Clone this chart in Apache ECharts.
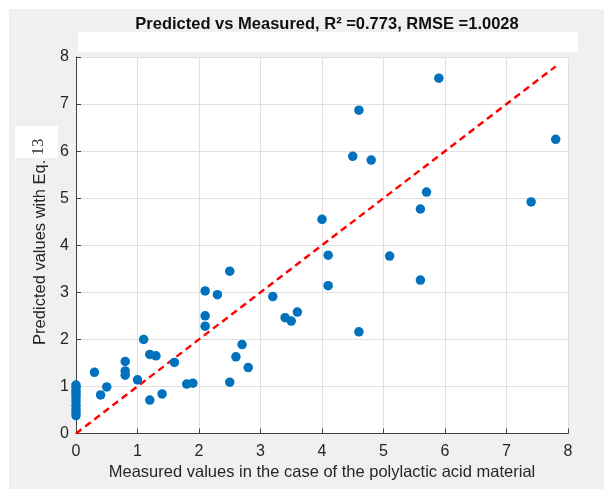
<!DOCTYPE html>
<html>
<head>
<meta charset="utf-8">
<script src="https://cdn.jsdelivr.net/npm/echarts@6/dist/echarts.min.js"></script>
<style>
html,body{margin:0;padding:0;background:#fff;}
#chart{width:604px;height:493px;}
</style>
</head>
<body>
<div id="chart"></div>
<script>
// Measured values (x)
const measured = [
  0, 0, 0, 0, 0, 0, 0, 0, 0, 0,
  0.3, 0.4, 0.5, 0.8, 0.8, 0.8, 1.0, 1.1, 1.2, 1.3,
  1.2, 1.4, 1.6, 1.8, 1.9, 2.1, 2.1, 2.1, 2.3, 2.5,
  2.5, 2.6, 2.7, 2.8, 3.2, 3.4, 3.5, 3.6, 4.0, 4.1,
  4.1, 4.5, 4.6, 4.6, 4.8, 5.1, 5.6, 5.6, 5.7, 5.9,
  7.4, 7.8
];
// Predicted values (y)
const predicted = [
  1.03, 0.97, 0.90, 0.83, 0.76, 0.68, 0.60, 0.52, 0.45, 0.38,
  1.30, 0.82, 0.99, 1.53, 1.33, 1.24, 1.14, 2.00, 1.68, 1.65,
  0.71, 0.84, 1.51, 1.05, 1.07, 3.03, 2.50, 2.28, 2.95, 3.45,
  1.09, 1.63, 1.89, 1.40, 2.91, 2.46, 2.39, 2.58, 4.55, 3.79,
  3.14, 5.89, 6.87, 2.16, 5.81, 3.77, 4.77, 3.26, 5.13, 7.55,
  4.92, 6.25
];
// Reference line y = x
const refX = [0, 7.8];
const refY = [0, 7.8];
const xTicks = [0, 1, 2, 3, 4, 5, 6, 7, 8];
const yTicks = [0, 1, 2, 3, 4, 5, 6, 7, 8];
const titleText = 'Predicted vs Measured, R\u00B2 =0.773, RMSE =1.0028';
const xName = 'Measured values in the case of the polylactic acid material';
const yName = 'Predicted values with Eq.';
const yNameSuffix = '13';

const points = measured.map((m, i) => [m, predicted[i]]);
const refLine = refX.map((v, i) => [v, refY[i]]);

const chart = echarts.init(document.getElementById('chart'), null, {renderer: 'canvas'});
const font = 'Liberation Sans, Arial, Helvetica, sans-serif';
const axisColor = '#404040';
const textColor = '#262626';

chart.setOption({
  backgroundColor: '#f0f0f0',
  animation: false,
  title: {
    text: titleText,
    left: 322,
    top: 11,
    textAlign: 'center',
    textStyle: {fontFamily: font, fontSize: 16.5, fontWeight: 'bold', color: '#111'}
  },
  graphic: [
    {type: 'rect', left: 0, top: 0, shape: {width: 604, height: 9}, style: {fill: '#fff'}, z: -10, silent: true},
    {type: 'rect', left: 0, top: 0, shape: {width: 9, height: 493}, style: {fill: '#fff'}, z: -10, silent: true},
    {type: 'rect', left: 0, top: 489, shape: {width: 604, height: 4}, style: {fill: '#fff'}, z: -10, silent: true},
    {type: 'rect', left: 78, top: 32, shape: {width: 500, height: 20}, style: {fill: '#fff'}, silent: true},
    {type: 'rect', left: 15, top: 126, shape: {width: 43, height: 32}, style: {fill: '#fff'}, z: 50, silent: true},
    {type: 'text', x: 39, y: 147, rotation: Math.PI / 2, z: 51, silent: true,
     style: {text: yNameSuffix, fill: '#333', font: '17px "Liberation Serif", "Times New Roman", serif',
             align: 'center', verticalAlign: 'middle'}}
  ],
  grid: {
    left: 76, top: 57, right: 36, bottom: 59.5,
    show: true, backgroundColor: '#ffffff', borderWidth: 0
  },
  xAxis: {
    type: 'value', min: xTicks[0], max: xTicks[xTicks.length - 1], interval: 1,
    name: xName, nameLocation: 'middle', nameGap: 30,
    nameTextStyle: {fontFamily: font, fontSize: 16.5, color: textColor},
    axisLine: {show: true, onZero: false, lineStyle: {color: axisColor, width: 1}},
    axisTick: {show: true, inside: true, length: 5, lineStyle: {color: axisColor}},
    axisLabel: {fontFamily: font, fontSize: 16, color: textColor, margin: 10},
    splitLine: {show: true, lineStyle: {color: '#e0e0e0', width: 1}}
  },
  yAxis: {
    type: 'value', min: yTicks[0], max: yTicks[yTicks.length - 1], interval: 1,
    name: yName, nameLocation: 'middle', nameGap: 21,
    nameTextStyle: {fontFamily: font, fontSize: 16.5, color: textColor, padding: [0, 14, 0, 0]},
    axisLine: {show: true, onZero: false, lineStyle: {color: axisColor, width: 1}},
    axisTick: {show: true, inside: true, length: 5, lineStyle: {color: axisColor}},
    axisLabel: {fontFamily: font, fontSize: 16, color: textColor, margin: 7},
    splitLine: {show: true, lineStyle: {color: '#e0e0e0', width: 1}}
  },
  series: [
    {
      type: 'line', data: refLine, symbol: 'none', silent: true, z: 2,
      lineStyle: {color: '#ff0000', width: 2.4, type: [7, 4.5]}
    },
    {
      type: 'scatter', data: points, symbol: 'circle', symbolSize: 9.5, z: 3,
      itemStyle: {color: '#0072BD', opacity: 1}
    }
  ]
});
</script>
</body>
</html>
